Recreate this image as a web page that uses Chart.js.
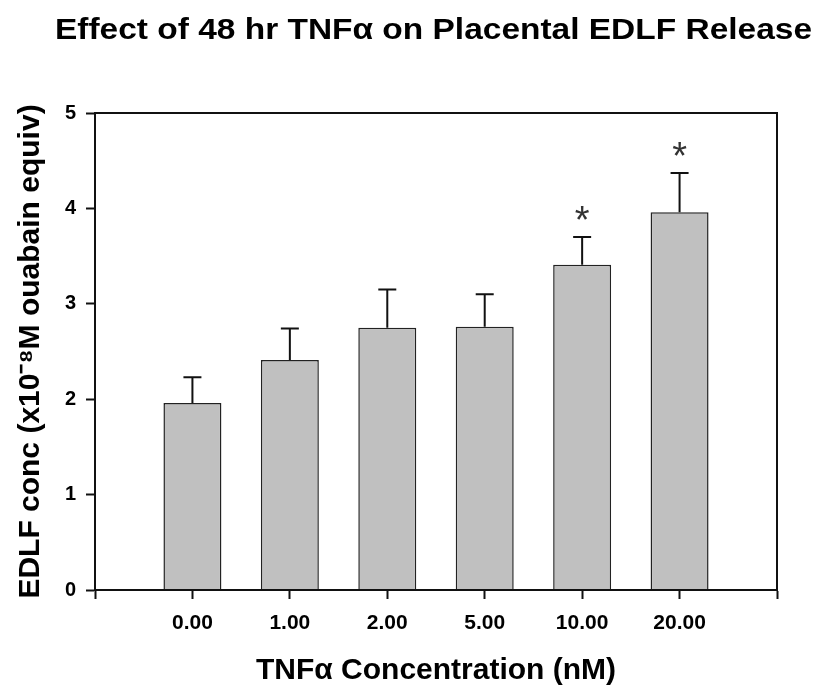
<!DOCTYPE html>
<html>
<head>
<meta charset="utf-8">
<script src="https://cdn.jsdelivr.net/npm/chart.js@4"></script>
<style>
html,body{margin:0;padding:0;background:#fff;}
#wrap{width:825px;height:688px;}
</style>
</head>
<body>
<div id="wrap"><canvas id="c" width="825" height="688"></canvas></div>
<script>
// ---- data ----
const categories = ['0.00', '1.00', '2.00', '5.00', '10.00', '20.00'];
const meanEDLF = [1.96, 2.41, 2.75, 2.76, 3.41, 3.96];
const semEDLF = [0.27, 0.33, 0.40, 0.34, 0.29, 0.41];
const significant = [false, false, false, false, true, true];
const yTicks = [0, 1, 2, 3, 4, 5];
const chartTitle = 'Effect of 48 hr TNFα on Placental EDLF Release';

// padded category axis (empty slot at each end, like the original)
const labels = [''].concat(categories, ['']);
const barData = [null].concat(meanEDLF, [null]);

const FONT = '"Liberation Sans", Arial, sans-serif';

const extras = {
  id: 'extras',
  afterDatasetsDraw(chart) {
    const ctx = chart.ctx;
    const xs = chart.scales.x, ys = chart.scales.y;
    const a = chart.chartArea;
    ctx.save();
    // error bars (upper only) and significance marks
    ctx.strokeStyle = '#111';
    ctx.lineWidth = 2;
    meanEDLF.forEach((m, i) => {
      const x = xs.getPixelForValue(i + 1);
      const y0 = ys.getPixelForValue(m);
      const y1 = ys.getPixelForValue(m + semEDLF[i]);
      ctx.beginPath();
      ctx.moveTo(x, y0);
      ctx.lineTo(x, y1);
      ctx.moveTo(x - 9, y1);
      ctx.lineTo(x + 9, y1);
      ctx.stroke();
      if (significant[i]) {
        ctx.fillStyle = '#333';
        ctx.font = '38px ' + FONT;
        ctx.textAlign = 'center';
        ctx.textBaseline = 'alphabetic';
        ctx.fillText('*', x, y1 - 4);
      }
    });
    // frame
    ctx.strokeStyle = '#111';
    ctx.lineWidth = 2;
    ctx.strokeRect(a.left, a.top, a.right - a.left, a.bottom - a.top);
    // title (slightly widened, like the original)
    ctx.fillStyle = '#000';
    ctx.font = 'bold 30px ' + FONT;
    ctx.textAlign = 'center';
    ctx.textBaseline = 'alphabetic';
    const w = ctx.measureText(chartTitle).width;
    const sx = 757 / w;
    ctx.translate(433.5, 38.5);
    ctx.scale(sx, 1);
    ctx.fillText(chartTitle, 0, 0);
    ctx.restore();
  }
};

new Chart(document.getElementById('c'), {
  type: 'bar',
  data: {
    labels: labels,
    datasets: [{
      data: barData,
      backgroundColor: '#c0c0c0',
      borderColor: '#222',
      borderWidth: 1.5,
      categoryPercentage: 1,
      barPercentage: 0.595
    }]
  },
  options: {
    responsive: false,
    animation: false,
    layout: { padding: { left: 0, right: 48, top: 113, bottom: 0 } },
    plugins: {
      legend: { display: false },
      tooltip: { enabled: false },
      title: { display: false }
    },
    scales: {
      x: {
        type: 'category',
        offset: false,
        grid: { display: true, offset: false, drawOnChartArea: false, drawTicks: true, tickLength: 9, tickColor: '#111', tickWidth: 2 },
        border: { display: true, color: '#111', width: 2 },
        ticks: { color: '#000', font: { family: FONT, size: 21, weight: 'bold' }, padding: 12, maxRotation: 0, autoSkip: false },
        title: {
          display: true,
          text: 'TNFα Concentration (nM)',
          color: '#000',
          font: { family: FONT, size: 30, weight: 'bold', lineHeight: 1 },
          padding: { top: 0, bottom: 2 }
        },
        afterFit(s) { s.height = 98; }
      },
      y: {
        min: 0,
        max: 5,
        afterBuildTicks(s) { s.ticks = yTicks.map(v => ({ value: v })); },
        grid: { display: true, drawOnChartArea: false, drawTicks: true, tickLength: 9, tickColor: '#111', tickWidth: 2 },
        border: { display: true, color: '#111', width: 2 },
        ticks: { color: '#000', font: { family: FONT, size: 20, weight: 'bold' }, padding: 10 },
        title: {
          display: true,
          text: 'EDLF conc (x10⁻⁸M ouabain equiv)',
          color: '#000',
          font: { family: FONT, size: 30, weight: 'bold', lineHeight: 1.2 },
          padding: { top: 13, bottom: 0 }
        },
        afterFit(s) { s.width = 95; }
      }
    }
  },
  plugins: [extras]
});
</script>
</body>
</html>
